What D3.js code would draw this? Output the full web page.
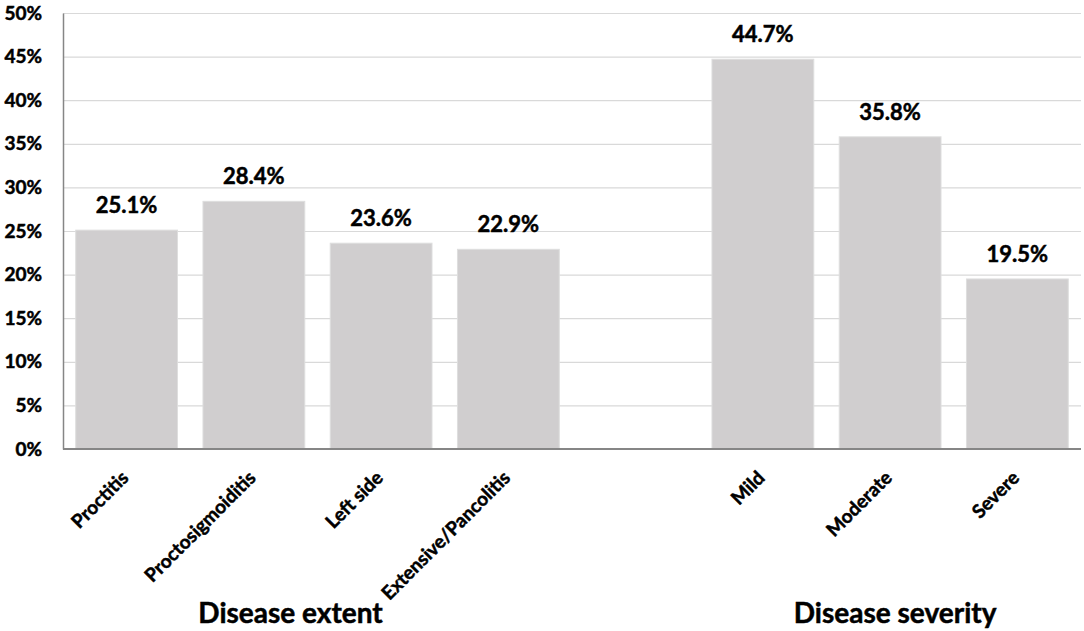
<!DOCTYPE html>
<html>
<head>
<meta charset="utf-8">
<script src="https://cdn.jsdelivr.net/npm/d3@7"></script>
<style>
  html, body { margin: 0; padding: 0; background: #fff; }
  svg { display: block; font-family: Lato, 'Open Sans', sans-serif; font-weight: bold; }
  svg text { stroke: #000; stroke-width: 0.5px; fill: #000; }
</style>
</head>
<body>
<div id="chart"></div>
<script>
// Categories (empty slot separates the two groups)
const categories = ['Proctitis', 'Proctosigmoiditis', 'Left side', 'Extensive/Pancolitis', '',
                    'Mild', 'Moderate', 'Severe'];
const values     = [25.1, 28.4, 23.6, 22.9, null, 44.7, 35.8, 19.5];
const yTicks     = [0, 5, 10, 15, 20, 25, 30, 35, 40, 45, 50];
const groups     = ['Disease extent', 'Disease severity'];

function drawChart() {
  const W = 1084, H = 631;
  const margin = { top: 13, right: 3, bottom: 182, left: 63 };
  const w = W - margin.left - margin.right;
  const h = H - margin.top - margin.bottom;

  const svg = d3.select('#chart').append('svg')
    .attr('width', W).attr('height', H)
    .attr('viewBox', `0 0 ${W} ${H}`);

  const g = svg.append('g')
    .attr('transform', `translate(${margin.left},${margin.top})`);

  /* ── Scales ─────────────────────────────────────────────────────── */
  const x = d3.scaleBand()
    .domain(d3.range(categories.length))
    .range([0, w])
    .paddingInner(0.2)
    .paddingOuter(0.1);

  const y = d3.scaleLinear().domain([0, 50]).range([h, 0]);

  /* ── Grid ───────────────────────────────────────────────────────── */
  g.append('g')
    .call(d3.axisLeft(y).tickValues(yTicks).tickSize(-w).tickFormat(''))
    .call(sel => sel.select('.domain').remove())
    .call(sel => sel.selectAll('line').attr('stroke', '#d9d9d9').attr('stroke-width', 1.2));

  /* ── Bars ───────────────────────────────────────────────────────── */
  const pts = values.map((v, i) => ({ i, v })).filter(d => d.v !== null);

  g.selectAll('.bar').data(pts).join('rect')
    .attr('class', 'bar')
    .attr('x', d => x(d.i))
    .attr('width', x.bandwidth())
    .attr('y', d => y(d.v))
    .attr('height', d => h - y(d.v))
    .attr('fill', '#d0cecf')
    .attr('stroke', '#dedede')
    .attr('stroke-width', 1);

  g.selectAll('.val').data(pts).join('text')
    .attr('class', 'val')
    .attr('x', d => x(d.i) + x.bandwidth() / 2)
    .attr('y', d => y(d.v) - 17)
    .attr('text-anchor', 'middle')
    .attr('font-size', 22)
    .text(d => d.v.toFixed(1) + '%');

  /* ── Axes ───────────────────────────────────────────────────────── */
  const yAxis = g.append('g')
    .call(d3.axisLeft(y).tickValues(yTicks).tickSize(0).tickPadding(21).tickFormat(d => d + '%'));
  yAxis.select('.domain').attr('stroke', '#868686').attr('stroke-width', 1.5);
  yAxis.selectAll('text').attr('font-size', 19)
    .attr('font-family', 'Lato, sans-serif').attr('font-weight', 'bold');

  g.append('line')
    .attr('x1', 0).attr('x2', w)
    .attr('y1', h).attr('y2', h)
    .attr('stroke', '#868686').attr('stroke-width', 2);

  // Rotated category labels
  g.selectAll('.cat').data(categories.map((c, i) => ({ c, i })).filter(d => d.c)).join('text')
    .attr('class', 'cat')
    .attr('transform', d => `translate(${x(d.i) + x.bandwidth() / 2 + 3},${h + 30}) rotate(-45)`)
    .attr('text-anchor', 'end')
    .attr('font-size', 19)
    .text(d => d.c);

  /* ── Group titles ───────────────────────────────────────────────── */
  const groupCenters = [x(0) + (x(3) + x.bandwidth() - x(0)) / 2 - 27,
                        x(5) + (x(7) + x.bandwidth() - x(5)) / 2 + 5];
  g.selectAll('.grp').data(groups).join('text')
    .attr('class', 'grp')
    .attr('x', (d, i) => groupCenters[i])
    .attr('y', 610)
    .attr('text-anchor', 'middle')
    .attr('font-size', 28)
    .text(d => d);
}

drawChart();
</script>
</body>
</html>
